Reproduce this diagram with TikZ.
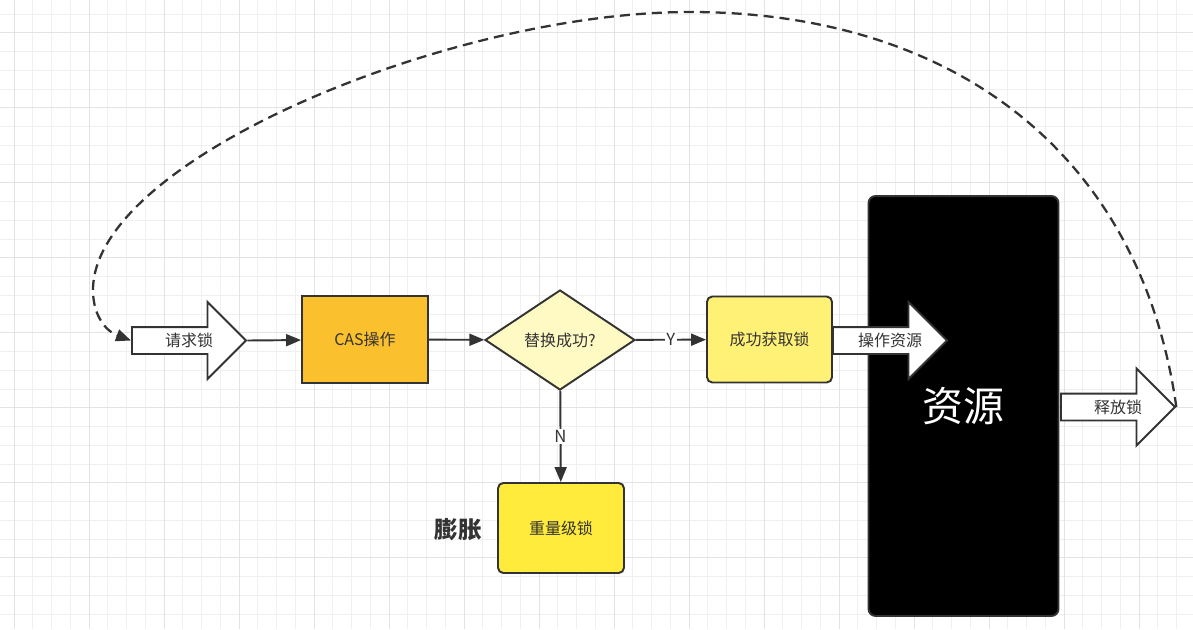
\documentclass[tikz,border=0pt]{standalone}
\usepackage{fontspec}
\setmainfont{Noto Sans CJK SC}
\usetikzlibrary{positioning}
\usetikzlibrary{calc}
\usetikzlibrary{arrows.meta}
\usetikzlibrary{shapes.geometric}
\usetikzlibrary{shapes.arrows}
\definecolor{ink}{HTML}{333333}
\definecolor{casfill}{HTML}{FBC02D}
\definecolor{askfill}{HTML}{FFF9C4}
\definecolor{getfill}{HTML}{FFF176}
\definecolor{heavyfill}{HTML}{FFEB3B}
\definecolor{gridminor}{HTML}{F0F0F0}
\definecolor{gridmajor}{HTML}{E3E3E3}

\begin{document}
\begin{tikzpicture}[x=0.02cm, y=-0.02cm, line width=1.1pt, draw=ink, text=ink,
    font=\fontsize{9.1}{11}\selectfont,
    stepbox/.style={draw, rectangle, minimum width=2.52cm, minimum height=1.74cm, inner sep=0pt},
    decision/.style={draw, diamond, aspect=1.5, minimum width=3cm, minimum height=2cm, inner sep=0pt, fill=askfill},
    fatarrow/.style={draw, single arrow, anchor=tail, fill=white, single arrow head extend=0.5cm, minimum height=2.28cm,
        minimum width=1.5cm, text height=0.25cm, text depth=0.07cm, inner xsep=0pt, inner ysep=0.09cm},
    flow/.style={-{Triangle[length=0.3cm, width=0.24cm]}},
    lbl/.style={fill=white, inner sep=1pt, font=\fontsize{9.5}{11}\selectfont}]
    \useasboundingbox[fill=white] (0,0) rectangle (1193,629);
    \foreach \k in {0,...,63} {
        \pgfmathsetmacro{\gx}{14+18.75*\k}
        \draw[line width=0.5pt, gridminor] (\gx,0) -- (\gx,629);
    }
    \foreach \k in {0,...,33} {
        \pgfmathsetmacro{\gy}{14+18.75*\k}
        \draw[line width=0.5pt, gridminor] (0,\gy) -- (1193,\gy);
    }
    \foreach \k in {0,4,...,60} {
        \pgfmathsetmacro{\gx}{14+18.75*\k}
        \draw[line width=0.5pt, gridmajor] (\gx,0) -- (\gx,629);
    }
    \foreach \k in {1,5,...,33} {
        \pgfmathsetmacro{\gy}{14+18.75*\k}
        \draw[line width=0.5pt, gridmajor] (0,\gy) -- (1193,\gy);
    }

    \node[fatarrow] (request) at (131,340.5) {};
    \node (requesttext) at ($(request.tail)!0.5!(request.tip)$) {请求锁};
    \node[stepbox, fill=casfill] (cas) at (365,339.5) {CAS操作};
    \node[decision] (swap) at (560,340) {替换成功?};
    \node[stepbox, rounded corners=3pt, minimum width=2.5cm, minimum height=1.72cm, fill=getfill] (acquire) at (769.5,339.5) {成功获取锁};
    \node[draw, rounded corners=4pt, fill=black, minimum width=3.8cm, minimum height=8.4cm, text=white,
        font=\fontsize{23.3}{26}\selectfont] (resource) at (963.5,406) {资源};
    \node[fatarrow] (operate) at (832,340.5) {};
    \node (operatetext) at ($(operate.tail)!0.5!(operate.tip)$) {操作资源};
    \node[fatarrow] (release) at (1060,407) {};
    \node (releasetext) at ($(release.tail)!0.5!(release.tip)$) {释放锁};
    \node[stepbox, rounded corners=3pt, minimum height=1.8cm, fill=heavyfill] (heavy) at (561,528) {重量级锁};
    \node[font=\fontsize{13.4}{16}\selectfont\bfseries] (inflate) at (458,530) {膨胀};

    \draw[flow] (request.tip) -- (cas);
    \draw[flow] (cas) -- (swap);
    \draw[flow] (swap) -- node[lbl] {Y} (acquire);
    \draw[flow] (swap) -- node[lbl] {N} (heavy);
    \draw[flow, line width=1.3pt, dash pattern=on 0.2cm off 0.12cm] (release.tip) .. controls (1140,150) and (950,12) .. (690,12)
        .. controls (450,12) and (93,160) .. (93,290) .. controls (93,318) and (108,332) .. (request.tail);
\end{tikzpicture}
\end{document}
